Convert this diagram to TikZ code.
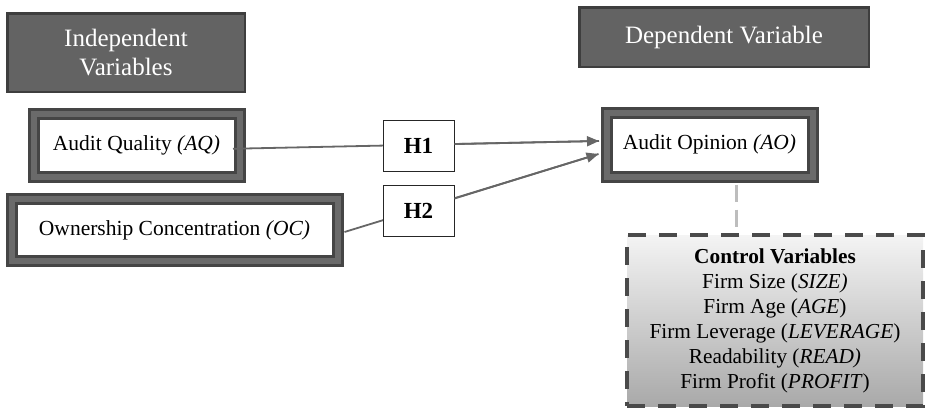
\documentclass[tikz,border=0pt]{standalone}
\usepackage{fontspec}
\setmainfont{Liberation Serif}
\usetikzlibrary{arrows.meta,calc}
\definecolor{hdrfill}{HTML}{636363}
\definecolor{hdrline}{HTML}{3E3E3E}
\definecolor{frdark}{HTML}{454545}
\definecolor{frmid}{HTML}{6A6A6A}
\definecolor{lnc}{HTML}{666666}
\definecolor{dashc}{HTML}{4A4A4A}
\definecolor{lightdash}{HTML}{BDBDBD}
\definecolor{ctop}{HTML}{F4F4F4}
\definecolor{cbot}{HTML}{A9A9A9}
\begin{document}
\begin{tikzpicture}[x=1pt,y=-1pt,
  hdr/.style={draw=hdrline, line width=2.5pt, fill=hdrfill, text=white,
    font=\fontsize{25}{29}\selectfont, align=center, inner sep=0pt},
  frame/.style={draw=frdark, line width=3pt, double=frmid, double distance=6pt,
    fill=white, font=\fontsize{21.5}{25}\selectfont, inner sep=0pt},
  hyp/.style={draw=black!85, line width=0.8pt, fill=white,
    font=\bfseries\fontsize{23}{27}\selectfont, inner sep=0pt},
  conn/.style={draw=lnc, line width=1.8pt},
  arr/.style={conn, -{Triangle[length=12pt,width=10pt]}},
  dconn/.style={draw=lightdash, line width=3pt, dash pattern=on 17pt off 8pt},
  ctrlbox/.style={draw=dashc, line width=4pt, dash pattern=on 18pt off 13pt,
    top color=ctop, bottom color=cbot, align=center, inner sep=0pt,
    font=\fontsize{21.3}{25}\selectfont},
]
\useasboundingbox (0,0) rectangle (927,410);

% headers
\node[hdr, minimum width=237.5pt, minimum height=78.5pt] (IV) at (126,52.5) {Independent\\Variables};
\node[hdr, minimum width=289.5pt, minimum height=59.5pt] (DV) at (724,37) {Dependent Variable};

% variable boxes
\node[frame, minimum width=206pt, minimum height=62.5pt] (AQ) at (136.5,145.25) {Audit Quality \textit{(AQ)}};
\node[frame, minimum width=326pt, minimum height=62pt] (OC) at (174.5,230) {Ownership Concentration \textit{(OC)}};
\node[frame, minimum width=206pt, minimum height=64pt] (AO) at (709.5,144.5) {Audit Opinion \textit{(AO)}};

% control box
\node[ctrlbox, minimum width=296pt, minimum height=171pt] (CV) at (775,320.5)
  {\textbf{Control Variables}\\
   Firm Size (\textit{SIZE)}\\
   Firm Age (\textit{AGE})\\
   Firm Leverage (\textit{LEVERAGE})\\
   Readability (\textit{READ)}\\
   Firm Profit (\textit{PROFIT})};

% connectors
\coordinate (aq1) at ($(AQ.east)+(-8,3.5)$);
\coordinate (t1) at ($(AO.west)+(-6,-3.5)$);
\coordinate (oc1) at ($(OC.east)+(5.5,2)$);
\coordinate (t2) at ($(AO.west)+(-6.5,9.5)$);
\coordinate (ds) at ($(AO.south)+(26.5,6.5)$);
\coordinate (de) at ($(CV.north)+(-39,-2)$);

\draw[conn] (aq1) -- (t1);
\draw[conn] (oc1) -- (t2);

\node[hyp, minimum width=71pt, minimum height=51pt] (H1) at (418.5,145.5) {H1};
\node[hyp, minimum width=71pt, minimum height=51pt] (H2) at (418.5,210.5) {H2};

\draw[arr] ($(H1.east)+(0,-1.5)$) -- (t1);
\draw[arr] ($(H2.east)+(0,-12)$) -- (t2);

\draw[dconn] (ds) -- (de);
\end{tikzpicture}
\end{document}
